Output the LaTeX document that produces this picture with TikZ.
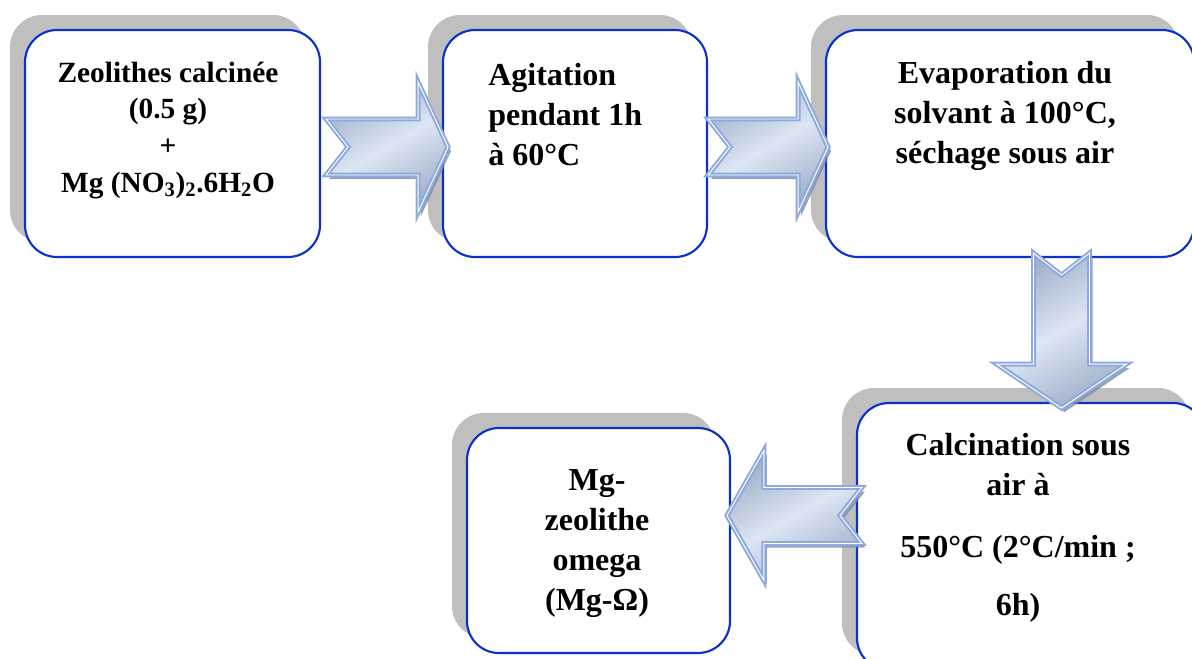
\documentclass[tikz,border=0pt]{standalone}
\usepackage{fontspec}
\setmainfont{Liberation Serif}
\usetikzlibrary{calc,shadows}

\definecolor{boxblue}{RGB}{10,50,200}
\definecolor{shadowgray}{RGB}{191,191,191}
\definecolor{arrowline}{RGB}{142,170,219}
\definecolor{arrowdark}{RGB}{160,175,202}
\definecolor{arrowlight}{RGB}{220,230,244}
\definecolor{arrowshade}{RGB}{125,140,170}

\tikzset{
  procbox/.style={draw=boxblue, line width=1.6pt, fill=white, rounded corners=24pt,
    general shadow={fill=shadowgray, shadow xshift=-11.25pt, shadow yshift=11.25pt}},
  lbl/.style={font=\bfseries\fontsize{24}{30}\selectfont, align=center, anchor=base, inner sep=0pt},
  bigarrow/.style={draw=arrowline, double=white, double distance=0.7pt, line width=1.5pt,
    top color=arrowdark, bottom color=arrowdark, middle color=arrowlight, shading angle=30},
}

% gros fleche: #1 = depart, #2 = angle, #3 = longueur, #4 = tete
\newcommand{\blockarrow}[4]{%
  \begin{scope}[shift={($(#1)+(3,4)$)}, rotate=#2]
    \fill[arrowshade, opacity=0.8] (0,-28) -- ({#3-#4},-28) -- ({#3-#4},-65) -- (#3,0)
      -- ({#3-#4},65) -- ({#3-#4},28) -- (0,28) -- (22,0) -- cycle;
  \end{scope}
  \begin{scope}[shift={(#1)}, rotate=#2]
    \path[bigarrow] (0,-28) -- ({#3-#4},-28) -- ({#3-#4},-65) -- (#3,0)
      -- ({#3-#4},65) -- ({#3-#4},28) -- (0,28) -- (22,0) -- cycle;
  \end{scope}}

\begin{document}
\begin{tikzpicture}[x=0.75pt, y=-0.75pt]
\useasboundingbox (0,0) rectangle (1192,658);
\clip (0,0) rectangle (1192,658);

% --- les etapes ---
\node[procbox, minimum width=221.25pt, minimum height=170.25pt] (b1) at (172.5,143.5) {};
\node[procbox, minimum width=198pt, minimum height=170.25pt] (b2) at (575,143.5) {};
\node[procbox, minimum width=276pt, minimum height=170.25pt] (b3) at (1010,143.5) {};
\node[procbox, minimum width=261pt, minimum height=200.25pt] (b4) at (1031,536.5) {};
\node[procbox, minimum width=197.25pt, minimum height=168.75pt] (b5) at (598.5,540.5) {};

% --- textes (ancre sur la derniere ligne) ---
\node[lbl, font=\bfseries\fontsize{22}{27.5}\selectfont] (t1) at (168,192)
  {Zeolithes calcinée\\(0.5 g)\\+\\Mg (NO\textsubscript{3})\textsubscript{2}.6H\textsubscript{2}O};
\node[lbl, align=left, anchor=base west] (t2) at (488,165) {Agitation\\pendant 1h\\à 60°C};
\node[lbl] (t3) at (1005,163) {Evaporation du\\solvant à 100°C,\\séchage sous air};
\node[lbl] (t4) at (1018,615) {Calcination sous\\air à\\[16.5pt]550°C (2°C/min ;\\[13.5pt]6h)};
\node[lbl] (t5) at (597,610) {Mg-\\zeolithe\\omega\\(Mg-Ω)};

% --- fleches ---
\coordinate (a1) at ($(b1.east)+(5,3.5)$);
\coordinate (a2) at ($(b2.east)+(0,3.5)$);
\coordinate (a3) at ($(b3.south)+(51.5,-5)$);
\coordinate (a4) at ($(b4.west)+(6,-21)$);
\blockarrow{a1}{0}{122}{30}
\blockarrow{a2}{0}{120}{30}
\blockarrow{a3}{-90}{155}{44}
\blockarrow{a4}{180}{135}{37}

\end{tikzpicture}
\end{document}
